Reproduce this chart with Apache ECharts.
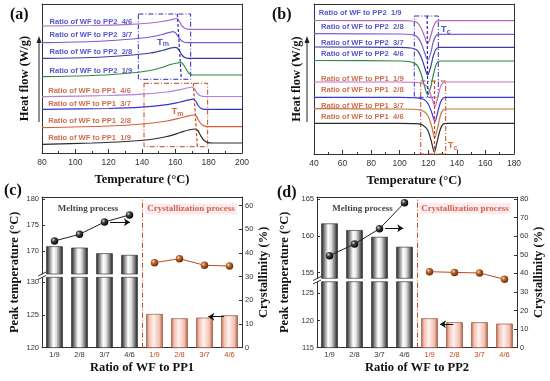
<!DOCTYPE html>
<html><head><meta charset="utf-8">
<script src="https://cdn.jsdelivr.net/npm/echarts@6/dist/echarts.min.js"></script>
<style>html,body{margin:0;padding:0;background:#fff}#c{width:550px;height:381px}</style>
</head><body><div id="c"></div>
<script>
// ---------- DATA ----------
// Panel (a): melting DSC curves, [temperature (°C), stacked heat flow (a.u.)]
const a_PP2_46 = [[80,127],[110,127.5],[130,128.3],[145,130],[152,131.5],[157,133],[161,134.5],[162.5,131.5],[164,127],[166,124.5],[168,123.7],[200,123.7]];
const a_PP2_37 = [[80,110.3],[110,111.5],[130,113.5],[145,116],[152,118.5],[156,120.3],[158.5,121.3],[160,120.2],[161.5,117],[163,113.5],[165,111],[167,110.3],[200,110.3]];
const a_PP2_28 = [[80,94.7],[110,95.5],[130,97.5],[145,100],[152,102.5],[157,104.8],[159.8,105.7],[161.2,105],[162.7,101.5],[164.2,97.5],[166,95.2],[168,94.7],[200,94.7]];
const a_PP2_19 = [[80,76.3],[110,77.5],[130,79.5],[145,82.5],[152,85.5],[157,88.5],[161,90],[163.5,90.3],[165,88],[166.5,84],[168,80],[170,78.2],[172,78],[200,78]];
const a_PP1_46 = [[80,56.3],[120,57.5],[140,58.8],[155,61],[163,63.3],[167,65],[170,66],[171.5,64],[173,60],[175,57.3],[178,56.5],[200,56.5]];
const a_PP1_37 = [[80,43.7],[120,44.5],[140,45.8],[155,48.3],[163,51],[167.5,52.8],[170.8,53.8],[172.2,52],[173.7,47.5],[175.5,44.5],[178,43.7],[200,43.7]];
const a_PP1_28 = [[80,25.3],[120,27],[140,29],[155,32],[163,35],[168,37.2],[171.2,38],[172.7,36.5],[174.2,32],[176.2,28],[179,26.4],[200,26.3]];
const a_PP1_19 = [[80,8.7],[110,10],[130,11.5],[145,13.5],[155,16.5],[163,20.5],[168,23],[172,24],[173.5,22.5],[175,18],[177,13],[179.5,10.3],[182,10],[200,10]];

// Panel (b): crystallization DSC curves
const b_PP2_19 = [[40,133.5],[100,133.3],[108,133],[112,131.5],[115,126],[117.5,117],[119.5,110.5],[121.5,117],[123.5,127],[125.5,132.5],[128,133.3],[180,133.3]];
const b_PP2_28 = [[40,120.3],[100,120],[108,119.5],[112,117.5],[115,111],[117.5,101],[119.7,94],[121.7,101],[123.5,112],[125.5,118.5],[128,119.7],[180,119.7]];
const b_PP2_37 = [[40,107],[100,106.7],[108,106],[112,104],[115,97],[117.5,86.5],[119.5,79],[121.5,86],[123.5,98],[125.5,105],[128,106.7],[180,106.7]];
const b_PP2_46 = [[40,93.5],[100,93],[108,92],[112,89],[115,80],[117.5,67],[119.6,59],[121.7,67],[124,82],[126,91],[128.5,93],[180,93]];
const b_PP1_19 = [[40,72],[100,72],[112,71.5],[117,70],[120,65.5],[122.5,56],[124.7,47.5],[126.5,56],[128.5,67],[130.5,71.5],[133,72],[180,72]];
const b_PP1_28 = [[40,56.7],[100,56.7],[112,56.2],[117,54.5],[120,50],[122.5,41],[124.7,32.5],[126.5,41],[128.5,51.5],[130.5,56],[133,56.7],[180,56.7]];
const b_PP1_37 = [[40,45.3],[100,45],[112,44.5],[117,42.5],[120,37.5],[122.5,27],[124.5,16],[126.5,26],[128.5,38.5],[130.5,44.3],[133,45],[180,45]];
const b_PP1_46 = [[40,30.7],[100,30.7],[112,30.3],[116,29],[119.5,24],[122,13.5],[124.2,2],[126.2,12.5],[128.5,25],[130.5,30],[133,30.7],[180,30.7]];

const a_labels = ['Ratio of WF to PP2  4/6','Ratio of WF to PP2  3/7','Ratio of WF to PP2  2/8','Ratio of WF to PP2  1/9',
                  'Ratio of WF to PP1  4/6','Ratio of WF to PP1  3/7','Ratio of WF to PP1  2/8','Ratio of WF to PP1  1/9'];
const b_labels = ['Ratio of WF to PP2  1/9','Ratio of WF to PP2  2/8','Ratio of WF to PP2  3/7','Ratio of WF to PP2  4/6',
                  'Ratio of WF to PP1  1/9','Ratio of WF to PP1  2/8','Ratio of WF to PP1  3/7','Ratio of WF to PP1  4/6'];
const tempTicksA = [80, 200];  // axis range (a)
const tempTicksB = [40, 180];  // axis range (b)

// Panels (c),(d): peak temperatures (°C) and crystallinity (%)
const ratioLabels = ['1/9','2/8','3/7','4/6'];
const c_meltTemp = [170.9,170.64,169.56,169.23];
const c_crysTemp = [125.15,124.49,124.59,124.95];
const c_meltXc = [45.1,47.9,53.1,56.1];
const c_crysXc = [35.9,37.6,34.8,34.5];
const d_meltTemp = [161.68,160.77,159.86,158.51];
const d_crysTemp = [120.4,119.67,119.67,119.41];
const d_meltXc = [49.5,55.8,64.0,78.0];
const d_crysXc = [40.9,40.5,40.2,36.8];
const c_tempTicksLow = [120,125,130], c_tempTicksUp = [170,175,180], c_xcTicks = [0,10,20,30,40,50,60];
const d_tempTicksLow = [115,120,125], d_tempTicksUp = [155,160,165], d_xcTicks = [0,10,20,30,40,50,60,70,80];

// ---------- LAYOUT / STYLE ----------
const AX = '#333';
const BLUE = '#2b2bc4', BROWN = '#c4481e';
const serif = '"Liberation Serif","Times New Roman",serif';
const sans = '"Liberation Sans",Arial,sans-serif';
const titleStyle = {fontFamily: serif, fontWeight: 'bold', fontSize: 12.5, color: '#111'};
const a_colors = ['#a46fc4','#7b5cd6','#3b3b9a','#2f8a44','#b380d6','#3535d0','#d9603b','#2b2b2b'];
const b_colors = ['#b06ab8','#7a5fd8','#3d3d9c','#2f8a44','#c56fc8','#3838d8','#c8743e','#2b2b2b'];
const labelColors = [BLUE,BLUE,BLUE,BLUE,BROWN,BROWN,BROWN,BROWN];
const a_labelAt = [[84.2,131.3],[84.2,118],[84.2,100.7],[84.2,82.3],[83.4,62.3],[83.4,48.7],[83.4,32],[83.4,15.3]];
const b_labelAt = [[43,140.7],[44.5,127.3],[44.5,110.7],[44.5,99.7],[44.5,75],[44.5,64],[44.5,48.3],[44.5,36.7]];

const grids = [], xAxes = [], yAxes = [], series = [];
const addGrid = g => (grids.push(Object.assign({outerBoundsMode: 'none', containLabel: false}, g)), grids.length - 1);
const addX = a => (xAxes.push(a), xAxes.length - 1);
const addY = a => (yAxes.push(a), yAxes.length - 1);
const line = {show: true, onZero: false, lineStyle: {color: AX, width: 1}};
const frameAxis = (gi, pos, min, max) => ({type: 'value', gridIndex: gi, position: pos, min, max, axisLine: line,
  axisTick: {show: false}, axisLabel: {show: false}, splitLine: {show: false}});

function dscPanel(cfg) {
  const g = addGrid({left: cfg.left, top: 4, width: 200, height: cfg.h});
  const xb = addX({type: 'value', gridIndex: g, min: cfg.range[0], max: cfg.range[1], interval: 20, position: 'bottom',
    axisLine: line, axisTick: {show: true, inside: true, length: 4, lineStyle: {color: AX}},
    minorTick: {show: true, splitNumber: 2, length: 2, lineStyle: {color: AX}},
    axisLabel: {fontFamily: sans, fontSize: 8.5, color: '#333', margin: 5}, splitLine: {show: false},
    name: 'Temperature (°C)', nameLocation: 'middle', nameGap: 20, nameTextStyle: titleStyle});
  addX(frameAxis(g, 'top', cfg.range[0], cfg.range[1]));
  const yl = addY({type: 'value', gridIndex: g, min: 0, max: cfg.h, position: 'left', axisLine: line,
    axisTick: {show: false}, axisLabel: {show: false}, splitLine: {show: false},
    name: 'Heat flow (W/g)', nameLocation: 'middle', nameGap: 11, nameTextStyle: titleStyle});
  addY(frameAxis(g, 'right', 0, cfg.h));
  cfg.curves.forEach((d, i) => series.push({type: 'line', xAxisIndex: xb, yAxisIndex: yl, data: d, showSymbol: false,
    smooth: 0.3, silent: true, lineStyle: {color: cfg.colors[i], width: 1.2}, z: 3,
    markArea: i === 0 ? {silent: true, data: cfg.boxes.map((b, k) => [{coord: b[0], itemStyle: {color: 'rgba(0,0,0,0)',
      borderColor: k === 0 ? BLUE : BROWN, borderWidth: 1, borderType: [5, 2, 1, 2]}}, {coord: b[1]}])} : undefined,
    markLine: i === 0 ? {silent: true, symbol: 'none', label: {show: false}, data: cfg.marks.map((m, k) => [{coord: m[0],
      lineStyle: {color: k === 0 ? BLUE : BROWN, type: [3, 2], width: 1.2}}, {coord: m[1]}])} : undefined}));
  series.push({type: 'scatter', xAxisIndex: xb, yAxisIndex: yl, symbolSize: 1, silent: true, itemStyle: {color: 'rgba(0,0,0,0)'},
    data: cfg.labels.map((t, i) => ({name: t, value: cfg.labelAt[i], label: {color: labelColors[i]}})),
    label: {show: true, position: 'right', distance: 0, formatter: '{b}', fontFamily: sans, fontWeight: 'bold', fontSize: 7.6}});
  series.push({type: 'scatter', xAxisIndex: xb, yAxisIndex: yl, symbolSize: 1, silent: true, itemStyle: {color: 'rgba(0,0,0,0)'},
    data: cfg.tAt.map((p, i) => ({value: p, label: {color: i === 0 ? BLUE : BROWN}})),
    label: {show: true, position: 'inside', formatter: '{t|T}{s|' + cfg.sub + '}',
      rich: {t: {fontFamily: sans, fontWeight: 'bold', fontSize: 9.5}, s: {fontFamily: sans, fontWeight: 'bold', fontSize: 7, padding: [5, 0, 0, 0]}}}});
}

dscPanel({left: 42, h: 149, range: tempTicksA, colors: a_colors, labels: a_labels, labelAt: a_labelAt,
  curves: [a_PP2_46, a_PP2_37, a_PP2_28, a_PP2_19, a_PP1_46, a_PP1_37, a_PP1_28, a_PP1_19],
  boxes: [[[137.8, 139], [169.2, 73.7]], [[141.2, 69.7], [179.4, 6.3]]],
  marks: [[[161.2, 139], [163.6, 73.7]], [[170.8, 69.7], [173.2, 6.3]]],
  tAt: [[152.6, 111], [161.3, 41.3]], sub: 'm'});
dscPanel({left: 314, h: 150, range: tempTicksB, colors: b_colors, labels: b_labels, labelAt: b_labelAt,
  curves: [b_PP2_19, b_PP2_28, b_PP2_37, b_PP2_46, b_PP1_19, b_PP1_28, b_PP1_37, b_PP1_46],
  boxes: [[[110.2, 138], [127, 56.7]], [[114.7, 73], [132.2, 0]]],
  marks: [[[119.2, 138], [119.6, 56.7]], [[124.4, 73], [124.4, 0.5]]],
  tAt: [[132.2, 124.7], [137.1, 8.3]], sub: 'c'});

const grayGrad = {type: 'linear', x: 0, y: 0, x2: 1, y2: 0, colorStops: [
  {offset: 0, color: '#1e1e1e'}, {offset: 0.2, color: '#8a8a8a'}, {offset: 0.42, color: '#ffffff'},
  {offset: 0.6, color: '#e4e4e4'}, {offset: 0.85, color: '#6a6a6a'}, {offset: 1, color: '#1a1a1a'}]};
const pinkGrad = {type: 'linear', x: 0, y: 0, x2: 1, y2: 0, colorStops: [
  {offset: 0, color: '#c56a50'}, {offset: 0.18, color: '#f2c2b4'}, {offset: 0.45, color: '#fff2ee'},
  {offset: 0.8, color: '#f0c0b0'}, {offset: 1, color: '#b85a40'}]};
const blackBall = {type: 'radial', x: 0.35, y: 0.35, r: 0.7, colorStops: [
  {offset: 0, color: '#e0e0e0'}, {offset: 0.35, color: '#444'}, {offset: 1, color: '#000'}]};
const brownBall = {type: 'radial', x: 0.35, y: 0.35, r: 0.7, colorStops: [
  {offset: 0, color: '#f8d8b0'}, {offset: 0.4, color: '#b8602a'}, {offset: 1, color: '#6a2a08'}]};

function barPanel(cfg) {
  const L = cfg.left, T = 197, W = 200, B = 347.67;
  const idx = [0, 1, 2, 3, 4, 5, 6, 7];
  const gF = addGrid({left: L, top: T, width: W, height: B - T});
  const gLo = addGrid({left: L, top: cfg.loTop, width: W, height: B - cfg.loTop});
  const gUp = addGrid({left: L, top: T, width: W, height: cfg.upBottom - T});
  const xF = addX({type: 'value', gridIndex: gF, min: -0.5, max: 7.5, position: 'bottom', axisLine: line,
    axisTick: {show: true, inside: true, length: 3, customValues: idx, lineStyle: {color: AX}},
    axisLabel: {customValues: idx, formatter: v => ratioLabels[Math.round(v) % 4], fontFamily: sans, fontSize: 7.5, margin: 3,
      color: v => (v > 3.5 ? BROWN : '#333')}, splitLine: {show: false},
    name: cfg.xName, nameLocation: 'middle', nameGap: 14, nameTextStyle: titleStyle});
  addX(frameAxis(gF, 'top', -0.5, 7.5));
  addY({type: 'value', gridIndex: gF, min: 0, max: 1, position: 'left', axisLine: {show: false}, axisTick: {show: false},
    axisLabel: {show: false}, splitLine: {show: false},
    name: 'Peak temperature (°C)', nameLocation: 'middle', nameGap: cfg.nameGapL, nameTextStyle: titleStyle});
  const yR = addY({type: 'value', gridIndex: gF, min: 0, max: cfg.xcMax, position: 'right', axisLine: line,
    axisTick: {show: true, inside: true, length: 3, customValues: cfg.xcTicks, lineStyle: {color: AX}},
    axisLabel: {customValues: cfg.xcTicks, fontFamily: sans, fontSize: 7.5, color: '#333', margin: 3}, splitLine: {show: false},
    name: 'Crystallinity (%)', nameLocation: 'middle', nameGap: 13, nameTextStyle: titleStyle});
  const cats = idx.map(i => ratioLabels[i % 4]);
  const xLo = addX({type: 'category', gridIndex: gLo, data: cats, show: false});
  const xUp = addX({type: 'category', gridIndex: gUp, data: cats, show: false});
  const yAx = (gi, min, max, ticks) => ({type: 'value', gridIndex: gi, min, max, position: 'left', axisLine: line,
    axisTick: {show: true, inside: true, length: 3, customValues: ticks, lineStyle: {color: AX}},
    axisLabel: {customValues: ticks, fontFamily: sans, fontSize: 7.5, color: '#333', margin: 3}, splitLine: {show: false}});
  const yLo = addY(yAx(gLo, cfg.loMin, cfg.loMax, cfg.loTicks));
  const yUp = addY(yAx(gUp, cfg.upMin, cfg.upMax, cfg.upTicks));
  const pad = ['-', '-', '-', '-'];
  const meltBar = {color: grayGrad, borderColor: '#222', borderWidth: 0.6};
  const crysBar = {color: pinkGrad, borderColor: '#8a3a22', borderWidth: 0.6};
  series.push({type: 'bar', xAxisIndex: xLo, yAxisIndex: yLo, data: cfg.meltT.concat(pad), barWidth: '66%', barGap: '-100%', itemStyle: meltBar, silent: true});
  series.push({type: 'bar', xAxisIndex: xLo, yAxisIndex: yLo, data: pad.concat(cfg.crysT), barWidth: '66%', barGap: '-100%', itemStyle: crysBar, silent: true});
  series.push({type: 'bar', xAxisIndex: xUp, yAxisIndex: yUp, data: cfg.meltT.concat(pad), barWidth: '66%', itemStyle: meltBar, silent: true});
  const arrowLine = {silent: true, symbol: ['none', 'arrow'], symbolSize: 6, label: {show: false}, lineStyle: {color: '#111', width: 1, type: 'solid'}};
  series.push({type: 'line', xAxisIndex: xF, yAxisIndex: yR, data: cfg.meltXc.map((v, i) => [i, v]), symbol: 'circle', symbolSize: 7.5,
    itemStyle: {color: blackBall}, lineStyle: {color: '#222', width: 1}, z: 5, silent: true,
    markLine: Object.assign({data: [[{coord: cfg.arrowR[0]}, {coord: cfg.arrowR[1]}]]}, arrowLine)});
  series.push({type: 'line', xAxisIndex: xF, yAxisIndex: yR, data: cfg.crysXc.map((v, i) => [i + 4, v]), symbol: 'circle', symbolSize: 7.5,
    itemStyle: {color: brownBall}, lineStyle: {color: BROWN, width: 1}, z: 5, silent: true,
    markLine: Object.assign({data: [[{coord: cfg.arrowL[0]}, {coord: cfg.arrowL[1]}]]}, arrowLine)});
  series.push({type: 'scatter', xAxisIndex: xF, yAxisIndex: yR, symbolSize: 1, silent: true, itemStyle: {color: 'rgba(0,0,0,0)'},
    data: [{value: cfg.textAt[0], name: 'Melting process', label: {color: '#111'}},
           {value: cfg.textAt[1], name: 'Crystallization process', label: {color: BROWN, backgroundColor: '#fce4ec', padding: [1, 2]}}],
    label: {show: true, position: 'inside', formatter: '{b}', fontFamily: serif, fontWeight: 'bold', fontSize: 9},
    markLine: {silent: true, symbol: 'none', label: {show: false}, lineStyle: {color: BROWN, type: [5, 2, 1, 2], width: 1},
      data: [{xAxis: 3.5}]}});
}

barPanel({left: 42, xName: 'Ratio of WF to PP1', nameGapL: 21, loTop: 277.3, loMin: 120, loMax: 130.77, loTicks: c_tempTicksLow,
  upBottom: 274, upMin: 165.58, upMax: 180.38, upTicks: c_tempTicksUp, xcMax: 63.66, xcTicks: c_xcTicks,
  meltT: c_meltTemp, crysT: c_crysTemp, meltXc: c_meltXc, crysXc: c_crysXc,
  arrowR: [[2.22, 53], [3.02, 53]], arrowL: [[6.78, 13.1], [6.15, 13.1]], textAt: [[1.34, 58.6], [5.46, 58.6]]});
barPanel({left: 317, xName: 'Ratio of WF to PP2', nameGapL: 26, loTop: 281.7, loMin: 115, loMax: 127.14, loTicks: d_tempTicksLow,
  upBottom: 278.3, upMin: 154.24, upMax: 165.27, upTicks: d_tempTicksUp, xcMax: 81.08, xcTicks: d_xcTicks,
  meltT: d_meltTemp, crysT: d_crysTemp, meltXc: d_meltXc, crysXc: d_crysXc,
  arrowR: [[2.22, 64.2], [2.95, 64.2]], arrowL: [[4.95, 12.6], [4.42, 12.6]], textAt: [[1.32, 75], [5.42, 75]]});

// decorations: heat-flow arrows, axis breaks, panel letters
const arrow = x => [{type: 'line', shape: {x1: x, y1: 122, x2: x, y2: 42}, style: {stroke: '#222', lineWidth: 1}},
  {type: 'polygon', shape: {points: [[x, 36], [x - 2.5, 43], [x + 2.5, 43]]}, style: {fill: '#222'}}];
const brk = (x, y) => [{type: 'line', shape: {x1: x - 4, y1: y + 1.5, x2: x + 4, y2: y - 2.5}, style: {stroke: '#333', lineWidth: 1}},
  {type: 'line', shape: {x1: x - 4, y1: y + 5, x2: x + 4, y2: y + 1}, style: {stroke: '#333', lineWidth: 1}}];
const letter = (x, y, t) => ({type: 'text', x, y, style: {text: t, font: 'bold 16px ' + serif, fill: '#111', textVerticalAlign: 'middle'}});
const graphic = [].concat(arrow(39), arrow(307), brk(42, 274.5), brk(317, 279),
  [letter(10, 15, '(a)'), letter(272, 15, '(b)'), letter(4, 191, '(c)'), letter(277, 193, '(d)')]);

const chart = echarts.init(document.getElementById('c'), null, {renderer: 'canvas'});
chart.setOption({animation: false, backgroundColor: '#fff', grid: grids, xAxis: xAxes, yAxis: yAxes, series, graphic});
</script></body></html>
